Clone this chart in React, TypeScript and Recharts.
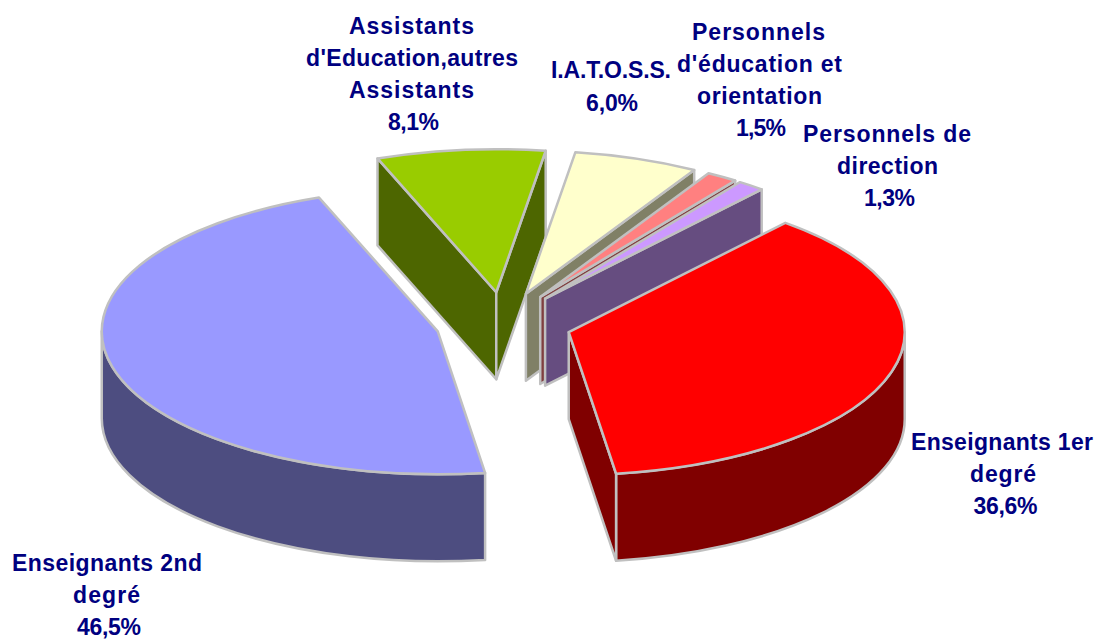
import React from "react";
import { PieChart, Pie } from "recharts";

// back to front, so the red slice is painted last
const categories = [
  ["Enseignants 2nd", "degré"],
  ["Assistants", "d'Education,autres", "Assistants"],
  ["I.A.T.O.S.S."],
  ["Personnels", "d'éducation et", "orientation"],
  ["Personnels de", "direction"],
  ["Enseignants 1er", "degré"],
];
const values = [46.5, 8.1, 6.0, 1.5, 1.3, 36.6];
const topColors = ["#9999FF", "#99CC00", "#FFFFCC", "#FF8080", "#CC99FF", "#FF0000"];
const sideColors = ["#4D4D80", "#4D6600", "#808066", "#804040", "#664D80", "#800000"];

// per text line: centre x and stretched width, then baseline of the first line
const labelLineX = [
  [107, 106.5, 109],
  [411.5, 412, 411.5, 413.5],
  [611, 612],
  [758.5, 759.5, 759.5, 761],
  [887, 887.5, 889.5],
  [1002, 1003, 1005.5],
];
const labelLineW = [
  [190, 67, 64],
  [125, 212, 125, 51],
  [120, 52],
  [133, 165, 125, 50],
  [168, 101, 51],
  [182, 66, 64],
];
const labelTopY = [571, 34, 78, 40, 142, 450];
const labelStep = [32, 32, 33, 32, 32, 32];

const data = values.map((value, i) => ({ name: categories[i].join(" "), value, fill: topColors[i] }));

const TILT = 143 / 336;
const DEPTH = 87;
const EXPLODE_X = 0.202;
const EXPLODE_Y = 0.22;
const BORDER = "#C0C0C0";
const RAD = Math.PI / 180;

const Slice3D = (props: any) => {
  const { cx, cy, outerRadius, startAngle, endAngle, midAngle, fill, index } = props;
  const rx = outerRadius;
  const ry = outerRadius * TILT;
  const hi = Math.max(startAngle, endAngle);
  const lo = Math.min(startAngle, endAngle);
  const ox = cx + rx * EXPLODE_X * Math.cos(midAngle * RAD);
  const oy = cy - ry * EXPLODE_Y * Math.sin(midAngle * RAD);
  const pt = (a: number) => [ox + rx * Math.cos(a * RAD), oy - ry * Math.sin(a * RAD)];
  const side = sideColors[index];

  const walls: string[] = [];

  // rim wall, only the part on the front half of the ellipse
  for (let k = -2; k <= 1; k++) {
    const a1 = Math.min(hi, -360 * k);
    const a2 = Math.max(lo, -180 - 360 * k);
    if (a1 > a2) {
      const [x1, y1] = pt(a1);
      const [x2, y2] = pt(a2);
      walls.push(
        `M${x1},${y1} A${rx},${ry} 0 0 1 ${x2},${y2} L${x2},${y2 + DEPTH} A${rx},${ry} 0 0 0 ${x1},${y1 + DEPTH} Z`
      );
    }
  }

  // cut faces, drawn when the top of the slice lies above the edge on screen
  const [mx, my] = pt((hi + lo) / 2);
  [hi, lo].forEach((a) => {
    const [px, py] = pt(a);
    const ex = px - ox;
    const ey = py - oy;
    const inner = ex * (my - oy) - ey * (mx - ox);
    if (inner * ex < 0) {
      walls.push(`M${ox},${oy} L${px},${py} L${px},${py + DEPTH} L${ox},${oy + DEPTH} Z`);
    }
  });

  const [sx, sy] = pt(hi);
  const [tx, ty] = pt(lo);
  const large = hi - lo > 180 ? 1 : 0;
  const top = `M${ox},${oy} L${sx},${sy} A${rx},${ry} 0 ${large} 1 ${tx},${ty} Z`;

  return (
    <g>
      {walls.map((d, i) => (
        <path key={i} d={d} fill={side} stroke={BORDER} strokeWidth={2.5} strokeLinejoin="round" />
      ))}
      <path d={top} fill={fill} stroke={BORDER} strokeWidth={2.5} strokeLinejoin="round" />
    </g>
  );
};

const renderLabel = (props: any) => {
  const { index, value } = props;
  const lines = [...categories[index], value.toFixed(1).replace(".", ",") + "%"];
  return (
    <g key={index}>
      {lines.map((line, i) => (
        <text
          key={i}
          x={labelLineX[index][i]}
          y={labelTopY[index] + i * labelStep[index]}
          textLength={labelLineW[index][i]}
          lengthAdjust="spacing"
          textAnchor="middle"
          fontFamily="'Liberation Sans', Arial, sans-serif"
          fontWeight="bold"
          fontSize={23}
          fill="#000080"
        >
          {line}
        </text>
      ))}
    </g>
  );
};

export default function App() {
  return (
    <div style={{ position: "absolute", left: 0, top: 0, width: 1101, height: 639, background: "#fff" }}>
      <PieChart width={1101} height={639} margin={{ top: 0, right: 0, bottom: 0, left: 0 }}>
        <Pie
          data={data}
          dataKey="value"
          nameKey="name"
          cx={503.5}
          cy={323.5}
          innerRadius={0}
          outerRadius={336}
          startAngle={-81.9}
          endAngle={-441.9}
          shape={Slice3D}
          label={renderLabel}
          labelLine={false}
          isAnimationActive={false}
          rootTabIndex={-1}
        />
      </PieChart>
    </div>
  );
}
